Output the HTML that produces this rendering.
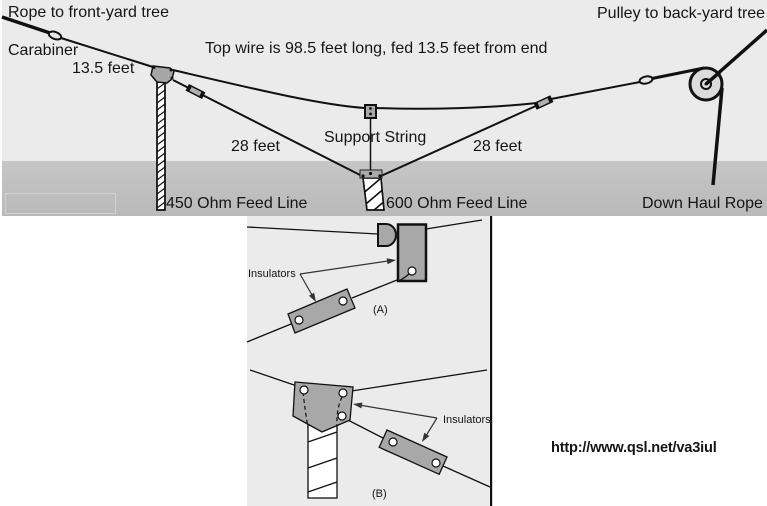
<!DOCTYPE html>
<html><head><meta charset="utf-8"><style>
html,body{margin:0;padding:0;background:#fff;}
svg{display:block;}
text{font-family:"Liberation Sans",Arial,sans-serif;fill:#151515;}
</style></head><body>
<svg width="767" height="506" viewBox="0 0 767 506" xmlns="http://www.w3.org/2000/svg">
<defs>
<linearGradient id="band" x1="0" y1="0" x2="0" y2="1">
<stop offset="0" stop-color="#c6c6c6"/><stop offset="1" stop-color="#b9b9b9"/>
</linearGradient>
<pattern id="hatch" patternUnits="userSpaceOnUse" x="157" y="82" width="8" height="7">
<line x1="0" y1="7" x2="8" y2="1" stroke="#111" stroke-width="1.2"/>
</pattern>
<clipPath id="c600"><polygon points="363,178 381,178 384,210 367,210"/></clipPath>
</defs>

<!-- top panel -->
<rect x="2" y="0" width="765" height="161" fill="#ebebeb"/>
<rect x="2" y="161" width="765" height="55" fill="url(#band)"/>
<rect x="5.5" y="193.5" width="110" height="20" fill="none" stroke="#d2d2d2" stroke-width="1"/>

<!-- left rope & carabiner -->
<line x1="2" y1="17" x2="50" y2="33" stroke="#111" stroke-width="3.5"/>
<ellipse cx="55" cy="35.5" rx="6.5" ry="3.5" transform="rotate(20 55 35.5)" fill="#e6e6e6" stroke="#111" stroke-width="2"/>
<line x1="61" y1="38" x2="153" y2="67" stroke="#111" stroke-width="2"/>

<!-- top wire curve -->
<path d="M173,70 C250,88 320,105 365,108" fill="none" stroke="#111" stroke-width="2"/>
<path d="M376,108 C430,110 490,108 537,103" fill="none" stroke="#111" stroke-width="2"/>

<!-- legs -->
<line x1="173" y1="80" x2="362" y2="176" stroke="#111" stroke-width="2"/>
<line x1="381" y1="176" x2="538" y2="105" stroke="#111" stroke-width="2"/>

<!-- 450 feed line -->
<rect x="157" y="82" width="8" height="128" fill="#fff" stroke="#111" stroke-width="1.5"/>
<rect x="157" y="82" width="8" height="128" fill="url(#hatch)" stroke="#111" stroke-width="1.5"/>

<!-- left feed insulator -->
<polygon points="153,66 170,68 174,71 172,79 167,83 157,82 151,75" fill="#a6a6a6" stroke="#111" stroke-width="1.5"/>
<circle cx="154" cy="67.5" r="1.5" fill="#111"/>
<circle cx="171" cy="70" r="1.5" fill="#111"/>
<circle cx="172" cy="78" r="1.5" fill="#111"/>

<!-- small insulator left leg -->
<g transform="translate(195.5 91.5) rotate(27)">
<rect x="-8.5" y="-3" width="17" height="6" fill="#b0b0b0" stroke="#111" stroke-width="1.5"/>
<rect x="-8.5" y="-3" width="3" height="6" fill="#111"/>
<rect x="5.5" y="-3" width="3" height="6" fill="#111"/>
</g>

<!-- right insulator -->
<g transform="translate(543.5 102.5) rotate(-25)">
<rect x="-8.5" y="-3" width="17" height="6" fill="#b0b0b0" stroke="#111" stroke-width="1.5"/>
<rect x="-8.5" y="-3" width="3" height="6" fill="#111"/>
<rect x="5.5" y="-3" width="3" height="6" fill="#111"/>
</g>
<line x1="551" y1="99" x2="640" y2="82" stroke="#111" stroke-width="2"/>
<ellipse cx="646" cy="80" rx="6.5" ry="3.5" transform="rotate(-12 646 80)" fill="#e6e6e6" stroke="#111" stroke-width="2"/>
<line x1="652" y1="78.5" x2="704" y2="68" stroke="#111" stroke-width="3"/>

<!-- pulley -->
<line x1="706" y1="84" x2="767" y2="30" stroke="#111" stroke-width="3.5"/>
<line x1="722" y1="88" x2="713" y2="185" stroke="#111" stroke-width="3.5"/>
<circle cx="706" cy="84" r="16" fill="#dcdcdc" stroke="#111" stroke-width="3"/>
<line x1="706" y1="84" x2="720" y2="72" stroke="#111" stroke-width="3.5"/>
<circle cx="706" cy="84" r="5" fill="none" stroke="#111" stroke-width="2"/>
<circle cx="706" cy="84" r="1.5" fill="#111"/>

<!-- middle support block -->
<line x1="370.5" y1="114" x2="370.5" y2="174" stroke="#111" stroke-width="1.5"/>
<rect x="365" y="105" width="11" height="13" fill="#a8a8a8" stroke="#111" stroke-width="2"/>
<circle cx="370.5" cy="108.5" r="1.4" fill="#111"/>
<circle cx="370.5" cy="114" r="1.4" fill="#111"/>

<!-- 600 feed -->
<polygon points="363,178 381,178 384,210 367,210" fill="#fff" stroke="#111" stroke-width="1.5"/>
<g clip-path="url(#c600)" stroke="#111" stroke-width="1.6">
<line x1="360" y1="196" x2="390" y2="170.5"/>
<line x1="360" y1="209" x2="390" y2="183.5"/>
<line x1="360" y1="222" x2="390" y2="196.5"/>
</g>
<polygon points="363,178 381,178 384,210 367,210" fill="none" stroke="#111" stroke-width="1.5"/>
<rect x="360" y="170" width="22" height="8" fill="#a9a9a9" stroke="#222" stroke-width="1"/>
<circle cx="363" cy="176" r="1.6" fill="#111"/>
<circle cx="370.5" cy="173.5" r="1.6" fill="#111"/>
<circle cx="380" cy="176" r="1.6" fill="#111"/>

<!-- labels top -->
<g font-size="16">
<text x="8" y="17">Rope to front-yard tree</text>
<text x="8" y="55">Carabiner</text>
<text x="72" y="73">13.5 feet</text>
<text x="205" y="53">Top wire is 98.5 feet long, fed 13.5 feet from end</text>
<text x="231" y="151">28 feet</text>
<text x="324" y="142">Support String</text>
<text x="473" y="151">28 feet</text>
<text x="166" y="208">450 Ohm Feed Line</text>
<text x="386" y="208">600 Ohm Feed Line</text>
<text x="597" y="18">Pulley to back-yard tree</text>
<text x="642" y="208">Down Haul Rope</text>
</g>

<!-- bottom panel -->
<rect x="247" y="216" width="244" height="290" fill="#ebebeb"/>
<rect x="490" y="216" width="2.2" height="290" fill="#111"/>

<!-- Fig A -->
<g stroke="#111" stroke-width="1.3" fill="none">
<line x1="247" y1="227" x2="378" y2="234"/>
<line x1="426" y1="229" x2="482" y2="220"/>
<line x1="397" y1="280" x2="352" y2="298"/>
<line x1="291" y1="324" x2="247" y2="342"/>
</g>
<path d="M378,224 L386,224 A10 11 0 0 1 386,246 L378,246 Z" fill="#a8a8a8" stroke="#111" stroke-width="2"/>
<rect x="398" y="224.5" width="28" height="56.5" fill="#a8a8a8" stroke="#111" stroke-width="2.5"/>
<circle cx="412" cy="271" r="4" fill="#fff" stroke="#111" stroke-width="1.2"/>
<path d="M409,274 Q402,280 398,281" fill="none" stroke="#111" stroke-width="1.3"/>
<polygon points="288,314 347,289 355,308 295,333" fill="#a8a8a8" stroke="#111" stroke-width="1.3"/>
<circle cx="299" cy="320" r="4" fill="#fff" stroke="#111" stroke-width="1.2"/>
<circle cx="343" cy="301" r="4" fill="#fff" stroke="#111" stroke-width="1.2"/>
<g stroke="#333" stroke-width="1.2">
<line x1="300" y1="274" x2="388" y2="261"/>
<line x1="300" y1="274" x2="312" y2="295"/>
</g>
<polygon points="396,260 387.5,264.3 386.7,258.3" fill="#333"/>
<polygon points="316,302 314.1,292.7 308.9,295.7" fill="#333"/>
<text x="248" y="277" font-size="11">Insulators</text>
<text x="373" y="313" font-size="11">(A)</text>

<!-- Fig B -->
<g stroke="#111" stroke-width="1.3" fill="none">
<line x1="250" y1="370" x2="297" y2="386"/>
<line x1="345" y1="392" x2="487" y2="370"/>
<line x1="342" y1="417" x2="383" y2="438"/>
<line x1="443" y1="466" x2="490" y2="487"/>
</g>
<rect x="308" y="420" width="29" height="78" fill="#fff" stroke="#111" stroke-width="1.3"/>
<g stroke="#111" stroke-width="1.3">
<line x1="308" y1="442" x2="337" y2="432"/>
<line x1="308" y1="468" x2="337" y2="458"/>
<line x1="308" y1="492" x2="337" y2="482"/>
</g>
<polygon points="295,382 353,387 350,420 322,432 293,416" fill="#a8a8a8" stroke="#111" stroke-width="1.3"/>
<path d="M303,392 Q305,410 308,428" fill="none" stroke="#111" stroke-width="1.2" stroke-dasharray="4 3"/>
<path d="M342,397 Q336,410 337,427" fill="none" stroke="#111" stroke-width="1.2" stroke-dasharray="4 3"/>
<circle cx="304" cy="390" r="4" fill="#fff" stroke="#111" stroke-width="1.2"/>
<circle cx="343" cy="393" r="4" fill="#fff" stroke="#111" stroke-width="1.2"/>
<circle cx="342" cy="416" r="4" fill="#fff" stroke="#111" stroke-width="1.2"/>
<polygon points="387,430 447,457 439.2,474.3 379.2,447.3" fill="#a8a8a8" stroke="#111" stroke-width="1.3"/>
<circle cx="393" cy="442" r="4" fill="#fff" stroke="#111" stroke-width="1.2"/>
<circle cx="436" cy="463" r="4" fill="#fff" stroke="#111" stroke-width="1.2"/>
<g stroke="#333" stroke-width="1.2">
<line x1="437" y1="418" x2="362" y2="405.5"/>
<line x1="437" y1="418" x2="426.8" y2="434.4"/>
</g>
<polygon points="353,404 362.4,402.5 361.4,408.4" fill="#333"/>
<polygon points="422,442 429.3,436 424.2,432.8" fill="#333"/>
<text x="443" y="423" font-size="11">Insulators</text>
<text x="372" y="497" font-size="11">(B)</text>

<!-- URL -->
<text x="551" y="452" font-size="14.6" font-weight="bold" letter-spacing="-0.2">http://www.qsl.net/va3iul</text>
</svg>
</body></html>
